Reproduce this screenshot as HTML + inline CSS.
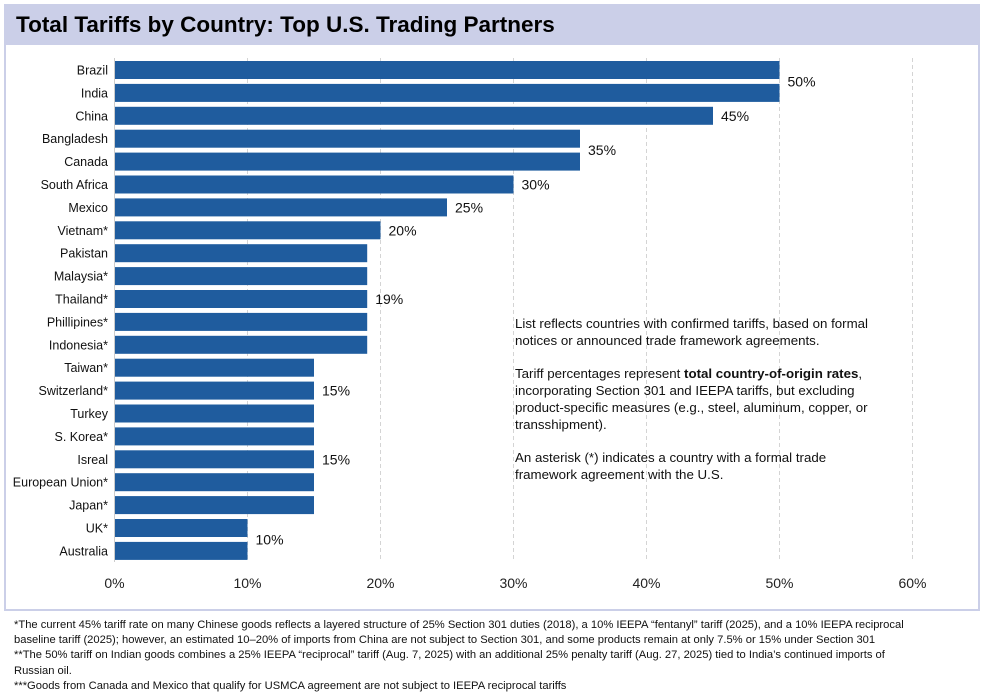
<!DOCTYPE html>
<html><head><meta charset="utf-8"><style>
body{margin:0;width:992px;height:696px;background:#fff;font-family:"Liberation Sans",sans-serif;position:relative;overflow:hidden}
#frame{position:absolute;left:4px;top:4px;width:976px;height:607px;border:2px solid #cbcfe8;box-sizing:border-box}
#title{position:absolute;left:4px;top:4px;width:976px;height:41px;background:#cbcfe8;font-weight:bold;font-size:22.5px;line-height:41px;padding-left:12px;box-sizing:border-box;color:#000}
#note{position:absolute;left:515px;top:315px;width:362px;font-size:13.3px;line-height:17px;color:#111}
#note p{margin:0 0 16px 0}
#foot{position:absolute;left:14px;top:618px;width:908px;font-size:11.2px;line-height:15.2px;color:#111}
#foot div{margin:0}
</style></head><body>
<div id="frame"></div>
<div id="title">Total Tariffs by Country: Top U.S. Trading Partners</div>
<svg id="chart" width="992" height="696" style="position:absolute;left:0;top:0"></svg>
<div id="note">
<p>List reflects countries with confirmed tariffs, based on formal notices or announced trade framework agreements.</p>
<p>Tariff percentages represent <b>total country-of-origin rates</b>, incorporating Section 301 and IEEPA tariffs, but excluding product-specific measures (e.g., steel, aluminum, copper, or transshipment).</p>
<p>An asterisk (*) indicates a country with a formal trade framework agreement with the U.S.</p>
</div>
<div id="foot">
<div>*The current 45% tariff rate on many Chinese goods reflects a layered structure of 25% Section 301 duties (2018), a 10% IEEPA “fentanyl” tariff (2025), and a 10% IEEPA reciprocal baseline tariff (2025); however, an estimated 10–20% of imports from China are not subject to Section 301, and some products remain at only 7.5% or 15% under Section 301</div>
<div>**The 50% tariff on Indian goods combines a 25% IEEPA “reciprocal” tariff (Aug. 7, 2025) with an additional 25% penalty tariff (Aug. 27, 2025) tied to India’s continued imports of Russian oil.</div>
<div>***Goods from Canada and Mexico that qualify for USMCA agreement are not subject to IEEPA reciprocal tariffs</div>
</div>
<script>
const categories=["Brazil","India","China","Bangladesh","Canada","South Africa","Mexico","Vietnam*","Pakistan","Malaysia*","Thailand*","Phillipines*","Indonesia*","Taiwan*","Switzerland*","Turkey","S. Korea*","Isreal","European Union*","Japan*","UK*","Australia"];
const values=[50,50,45,35,35,30,25,20,19,19,19,19,19,15,15,15,15,15,15,15,10,10];
const tickValues=[0,10,20,30,40,50,60];
const labelValues=[50,45,35,30,25,20,19,15,15,10];
const labelAt=[0.5,2,3.5,5,6,7,10,14,17,20.5];
const svg=document.getElementById('chart');
const NS='http://www.w3.org/2000/svg';
const x0=114.5,pxPer=13.3,y0=70,pitch=22.9,bh=18;
const xs=v=>x0+v*pxPer;
const ys=i=>y0+i*pitch;
function mk(t,a){const e=document.createElementNS(NS,t);for(const k in a)e.setAttribute(k,a[k]);svg.appendChild(e);return e;}
tickValues.forEach(v=>{
 if(v>0){const g=mk('line',{x1:xs(v),x2:xs(v),y1:58,y2:562,stroke:'#d4d4d4','stroke-dasharray':'4,3','stroke-width':1});
 
 }
 const t=mk('text',{x:xs(v),y:588,'text-anchor':'middle','font-size':14,fill:'#222','font-family':'Liberation Sans'});
 t.textContent=v+'%';
 
 
});
const ax=mk('line',{x1:x0,x2:x0,y1:58,y2:562,stroke:'#ccc'});


categories.forEach((c,i)=>{
 const r=mk('rect',{x:x0+0.5,y:ys(i)-bh/2,width:xs(values[i])-x0-0.5,height:bh,fill:'#1f5c9e'});
 
 
 const t=mk('text',{x:108,y:ys(i)+4.5,'text-anchor':'end','font-size':12.5,fill:'#111','font-family':'Liberation Sans'});
 t.textContent=c;
 
 
});
labelValues.forEach((v,k)=>{
 const t=mk('text',{x:xs(v)+8,y:ys(labelAt[k])+5,'font-size':14,fill:'#111','font-family':'Liberation Sans'});
 t.textContent=v+'%';
 
 
});
</script>
</body></html>
